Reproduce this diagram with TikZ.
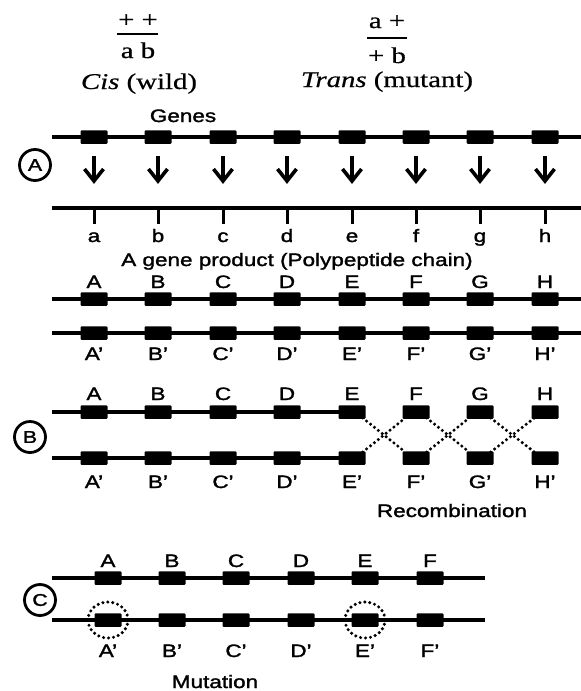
\documentclass[tikz,border=0pt]{standalone}
\usepackage{fontspec}
\setmainfont{Liberation Serif}[FakeStretch=1.28, FakeBold=0.6]
\newfontfamily\labfont{Liberation Sans}[FakeStretch=1.25, FakeBold=1.6]
\begin{document}
\begin{tikzpicture}[x=1pt,y=-1pt,
  chrom/.style={line width=3.2pt},
  gene/.style={fill=black, draw=none, minimum width=27pt, minimum height=13.5pt, inner sep=0pt, rounded corners=1pt},
  lbl/.style={font=\labfont\fontsize{18}{20}\selectfont, anchor=base, inner sep=0pt},
  ser/.style={font=\fontsize{22.5}{25}\selectfont, anchor=base, inner sep=0pt},
  circlbl/.style={circle, draw, line width=2.8pt, minimum size=31pt, inner sep=0pt, font=\labfont\fontsize{17}{19}\selectfont},
  dotline/.style={line width=3.4pt, line cap=round, dash pattern=on 0pt off 5pt},
  garrow/.style={line width=3.6pt, miter limit=10},
  fracbar/.style={line width=2pt}]
\useasboundingbox (0,0) rectangle (581,691);

% ---- header ----
\node[ser] (pp) at (138,27) {+ +};
\node[ser] (ab) at (138,58) {a b};
\coordinate (fb1l) at (117,34); \coordinate (fb1r) at (158,34);
\draw[fracbar] (fb1l) -- (fb1r);
\node[ser] (cis) at (139,89) {\textit{Cis} (wild)};
\node[ser] (ap) at (387,28) {a +};
\node[ser] (pb) at (387,63) {+ b};
\coordinate (fb2l) at (367,38); \coordinate (fb2r) at (407,38);
\draw[fracbar] (fb2l) -- (fb2r);
\node[ser] (trans) at (387,87) {\textit{Trans} (mutant)};
\node[lbl] (genes) at (183,122) {Genes};

% ---- section A ----
\node[circlbl] (cA) at (35,165) {A};
\coordinate (a1s) at (52,137); \coordinate (a1e) at (581,137);
\draw[chrom] (a1s) -- (a1e);
\coordinate (ps) at (52,208); \coordinate (pe) at (581,208);
\draw[chrom] (ps) -- (pe);
\coordinate (a2s) at (52,299); \coordinate (a2e) at (581,299);
\draw[chrom] (a2s) -- (a2e);
\coordinate (a3s) at (52,333); \coordinate (a3e) at (581,333);
\draw[chrom] (a3s) -- (a3e);
\foreach \x/\l/\U [count=\i] in {94/a/A,158/b/B,223/c/C,287/d/D,352/e/E,416/f/F,480/g/G,545/h/H} {
  \node[gene] (ga\i) at (\x,137) {};
  \coordinate (at\i) at (\x,156); \coordinate (ab\i) at (\x,181);
  \coordinate (al\i) at (\x-9.5,169); \coordinate (ar\i) at (\x+9.5,169);
  \draw[garrow] (at\i) -- (ab\i);
  \draw[garrow] (al\i) -- (ab\i) -- (ar\i);
  \coordinate (tt\i) at (\x,208); \coordinate (tb\i) at (\x,224);
  \draw[line width=3pt] (tt\i) -- (tb\i);
  \node[lbl] (pl\i) at (\x,242) {\l};
  \node[gene] (gp\i) at (\x,299) {};
  \node[lbl] (gpl\i) at (\x,288) {\U};
  \node[gene] (gq\i) at (\x,333) {};
  \node[lbl] (gql\i) at (\x,360) {\U\textquoteright};
}
\node[lbl] (prod) at (297,266) {A gene product (Polypeptide chain)};

% ---- section B ----
\node[circlbl] (cB) at (30,437) {B};
\coordinate (b1s) at (52,412); \coordinate (b2s) at (52,458);
\draw[chrom] (b1s) -- (352,412);
\draw[chrom] (b2s) -- (352,458);
\foreach \x/\U [count=\i] in {94/A,158/B,223/C,287/D,352/E,416/F,480/G,545/H} {
  \node[gene] (gbt\i) at (\x,412) {};
  \node[gene] (gbb\i) at (\x,458) {};
  \node[lbl] (gbtl\i) at (\x,400) {\U};
  \node[lbl] (gbbl\i) at (\x,488) {\U\textquoteright};
}
\draw[dotline] ([shift={(-3,-1)}]gbt5.south east) -- ([shift={(3,1)}]gbb6.north west);
\draw[dotline] ([shift={(-3,1)}]gbb5.north east) -- ([shift={(3,-1)}]gbt6.south west);
\draw[dotline] ([shift={(-3,-1)}]gbt6.south east) -- ([shift={(3,1)}]gbb7.north west);
\draw[dotline] ([shift={(-3,1)}]gbb6.north east) -- ([shift={(3,-1)}]gbt7.south west);
\draw[dotline] ([shift={(-3,-1)}]gbt7.south east) -- ([shift={(3,1)}]gbb8.north west);
\draw[dotline] ([shift={(-3,1)}]gbb7.north east) -- ([shift={(3,-1)}]gbt8.south west);
\node[lbl] (recomb) at (452,517) {Recombination};

% ---- section C ----
\node[circlbl] (cC) at (40,600) {C};
\coordinate (c1s) at (52,578); \coordinate (c1e) at (485,578);
\coordinate (c2s) at (52,620); \coordinate (c2e) at (485,620);
\draw[chrom] (c1s) -- (c1e);
\draw[chrom] (c2s) -- (c2e);
\foreach \x/\U [count=\i] in {108/A,172/B,236/C,301/D,365/E,430/F} {
  \node[gene] (gct\i) at (\x,578) {};
  \node[gene] (gcb\i) at (\x,620) {};
  \node[lbl] (gctl\i) at (\x,567) {\U};
  \node[lbl] (gcbl\i) at (\x,657) {\U\textquoteright};
}
\draw[dotline] (gcb1.center) ellipse [x radius=20pt, y radius=18pt];
\draw[dotline] (gcb5.center) ellipse [x radius=20pt, y radius=18pt];
\node[lbl] (mut) at (215,688) {Mutation};
\end{tikzpicture}
\end{document}
